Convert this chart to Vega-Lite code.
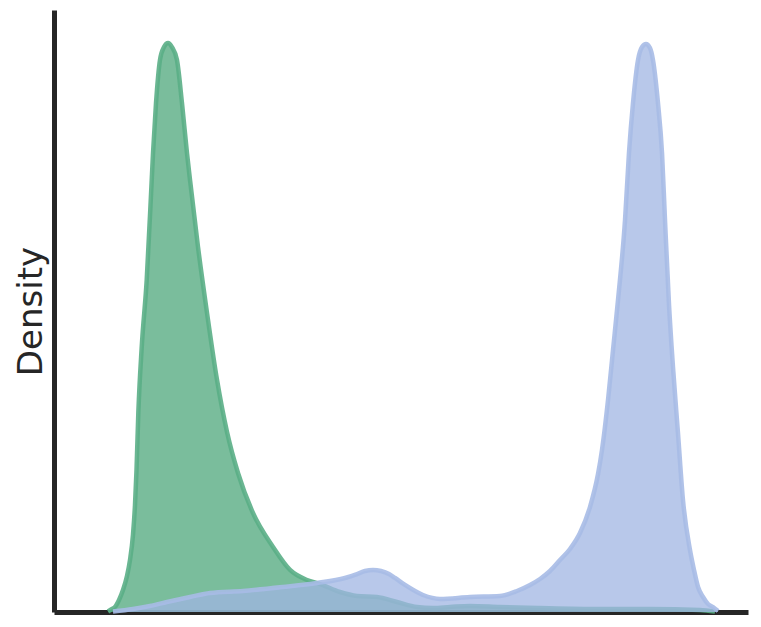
{
  "$schema": "https://vega.github.io/schema/vega-lite/v6.json",
  "width": 694,
  "height": 602,
  "autosize": {"type": "none"},
  "padding": {"left": 54, "top": 10, "right": 13, "bottom": 15},
  "background": "white",
  "config": {
    "view": {"stroke": null},
    "axis": {"grid": false, "ticks": false, "labels": false, "domainColor": "#262626", "domainWidth": 5}
  },
  "data": {
    "values": [
      {"series": "A", "value": 7.78, "density": 0.0008},
      {"series": "A", "value": 8.36, "density": 0.005},
      {"series": "A", "value": 8.79, "density": 0.0083},
      {"series": "A", "value": 9.37, "density": 0.0199},
      {"series": "A", "value": 9.94, "density": 0.0365},
      {"series": "A", "value": 10.52, "density": 0.0598},
      {"series": "A", "value": 10.95, "density": 0.0864},
      {"series": "A", "value": 11.38, "density": 0.1279},
      {"series": "A", "value": 11.67, "density": 0.1777},
      {"series": "A", "value": 11.89, "density": 0.2359},
      {"series": "A", "value": 12.15, "density": 0.3306},
      {"series": "A", "value": 12.64, "density": 0.4402},
      {"series": "A", "value": 13.36, "density": 0.5515},
      {"series": "A", "value": 14.08, "density": 0.7176},
      {"series": "A", "value": 14.27, "density": 0.7625},
      {"series": "A", "value": 14.7, "density": 0.8455},
      {"series": "A", "value": 15.27, "density": 0.9169},
      {"series": "A", "value": 15.85, "density": 0.9385},
      {"series": "A", "value": 16.43, "density": 0.9452},
      {"series": "A", "value": 17.0, "density": 0.9385},
      {"series": "A", "value": 17.72, "density": 0.9169},
      {"series": "A", "value": 18.44, "density": 0.8455},
      {"series": "A", "value": 19.16, "density": 0.7625},
      {"series": "A", "value": 19.6, "density": 0.7176},
      {"series": "A", "value": 20.75, "density": 0.6063},
      {"series": "A", "value": 22.05, "density": 0.4967},
      {"series": "A", "value": 23.49, "density": 0.3854},
      {"series": "A", "value": 24.93, "density": 0.299},
      {"series": "A", "value": 26.51, "density": 0.2309},
      {"series": "A", "value": 28.67, "density": 0.1645},
      {"series": "A", "value": 31.56, "density": 0.108},
      {"series": "A", "value": 34.01, "density": 0.0698},
      {"series": "A", "value": 36.46, "density": 0.0532},
      {"series": "A", "value": 38.33, "density": 0.0465},
      {"series": "A", "value": 41.21, "density": 0.0332},
      {"series": "A", "value": 43.66, "density": 0.0266},
      {"series": "A", "value": 46.54, "density": 0.0249},
      {"series": "A", "value": 49.42, "density": 0.0166},
      {"series": "A", "value": 52.31, "density": 0.0083},
      {"series": "A", "value": 54.61, "density": 0.0066},
      {"series": "A", "value": 57.06, "density": 0.0083},
      {"series": "A", "value": 59.94, "density": 0.01},
      {"series": "A", "value": 64.27, "density": 0.0083},
      {"series": "A", "value": 70.03, "density": 0.0066},
      {"series": "A", "value": 78.67, "density": 0.005},
      {"series": "A", "value": 85.88, "density": 0.005},
      {"series": "A", "value": 93.08, "density": 0.0033},
      {"series": "A", "value": 95.24, "density": 0.0008},
      {"series": "B", "value": 8.5, "density": 0.0008},
      {"series": "B", "value": 11.38, "density": 0.005},
      {"series": "B", "value": 13.83, "density": 0.01},
      {"series": "B", "value": 16.28, "density": 0.0166},
      {"series": "B", "value": 19.6, "density": 0.0249},
      {"series": "B", "value": 22.48, "density": 0.0316},
      {"series": "B", "value": 27.23, "density": 0.0349},
      {"series": "B", "value": 33.0, "density": 0.0415},
      {"series": "B", "value": 37.9, "density": 0.0482},
      {"series": "B", "value": 41.93, "density": 0.0565},
      {"series": "B", "value": 43.66, "density": 0.0631},
      {"series": "B", "value": 44.81, "density": 0.0681},
      {"series": "B", "value": 45.97, "density": 0.0698},
      {"series": "B", "value": 47.12, "density": 0.0681},
      {"series": "B", "value": 48.27, "density": 0.0631},
      {"series": "B", "value": 49.14, "density": 0.0565},
      {"series": "B", "value": 50.58, "density": 0.0449},
      {"series": "B", "value": 53.17, "density": 0.0282},
      {"series": "B", "value": 55.62, "density": 0.0216},
      {"series": "B", "value": 59.94, "density": 0.0249},
      {"series": "B", "value": 64.27, "density": 0.0266},
      {"series": "B", "value": 66.71, "density": 0.0349},
      {"series": "B", "value": 68.59, "density": 0.0449},
      {"series": "B", "value": 70.03, "density": 0.0548},
      {"series": "B", "value": 71.47, "density": 0.0681},
      {"series": "B", "value": 72.91, "density": 0.0864},
      {"series": "B", "value": 74.35, "density": 0.1047},
      {"series": "B", "value": 75.79, "density": 0.1312},
      {"series": "B", "value": 77.23, "density": 0.1744},
      {"series": "B", "value": 78.39, "density": 0.2292},
      {"series": "B", "value": 78.96, "density": 0.2691},
      {"series": "B", "value": 79.83, "density": 0.3522},
      {"series": "B", "value": 80.55, "density": 0.4352},
      {"series": "B", "value": 81.27, "density": 0.5183},
      {"series": "B", "value": 82.28, "density": 0.6512},
      {"series": "B", "value": 82.85, "density": 0.7625},
      {"series": "B", "value": 83.43, "density": 0.8455},
      {"series": "B", "value": 84.15, "density": 0.9169},
      {"series": "B", "value": 84.73, "density": 0.9385},
      {"series": "B", "value": 85.3, "density": 0.9435},
      {"series": "B", "value": 85.88, "density": 0.9369},
      {"series": "B", "value": 86.31, "density": 0.9169},
      {"series": "B", "value": 87.03, "density": 0.8455},
      {"series": "B", "value": 87.61, "density": 0.7625},
      {"series": "B", "value": 88.04, "density": 0.6512},
      {"series": "B", "value": 88.62, "density": 0.51},
      {"series": "B", "value": 89.19, "density": 0.407},
      {"series": "B", "value": 89.91, "density": 0.2973},
      {"series": "B", "value": 90.63, "density": 0.186},
      {"series": "B", "value": 91.64, "density": 0.103},
      {"series": "B", "value": 92.22, "density": 0.0698},
      {"series": "B", "value": 92.8, "density": 0.0415},
      {"series": "B", "value": 93.52, "density": 0.0249},
      {"series": "B", "value": 94.24, "density": 0.0133},
      {"series": "B", "value": 94.96, "density": 0.0083},
      {"series": "B", "value": 95.68, "density": 0.0017}
    ]
  },
  "encoding": {
    "x": {"field": "value", "type": "quantitative", "scale": {"domain": [0, 100], "nice": false, "zero": false}, "axis": {"title": null}},
    "y": {"field": "density", "type": "quantitative", "scale": {"domain": [0, 1], "nice": false}, "axis": {"title": "Density", "titleFontSize": 34, "titleFont": "DejaVu Sans", "titleFontWeight": "normal", "titleColor": "#262626", "titlePadding": 6}}
  },
  "layer": [
    {"transform": [{"filter": "datum.series === 'A'"}], "mark": {"type": "area", "interpolate": "monotone", "color": "#4ea77b", "opacity": 0.75}},
    {"transform": [{"filter": "datum.series === 'A'"}], "mark": {"type": "line", "interpolate": "monotone", "color": "#5aae86", "strokeWidth": 4.5, "opacity": 0.9}},
    {"transform": [{"filter": "datum.series === 'B'"}], "mark": {"type": "area", "interpolate": "monotone", "color": "#a0b6e3", "opacity": 0.75}},
    {"transform": [{"filter": "datum.series === 'B'"}], "mark": {"type": "line", "interpolate": "monotone", "color": "#a7bbe5", "strokeWidth": 4.5, "opacity": 0.9}}
  ]
}
